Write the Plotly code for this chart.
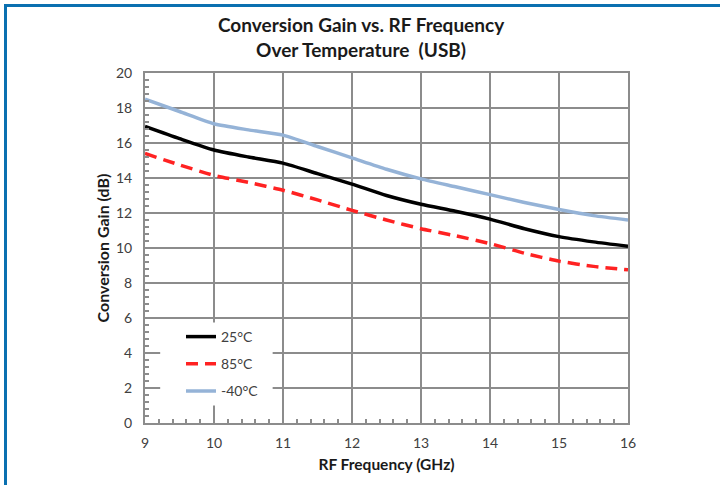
import plotly.graph_objects as go

# RF frequency (GHz)
freq = [9, 9.5, 10, 10.5, 11, 11.5, 12, 12.5, 13, 13.5, 14, 14.5, 15, 15.5, 16]

# Conversion gain (dB) per temperature
gain_25 = [16.95, 16.25, 15.6, 15.2, 14.85, 14.25, 13.65, 13.0, 12.5, 12.1,
           11.65, 11.1, 10.65, 10.35, 10.1]
gain_85 = [15.4, 14.75, 14.15, 13.75, 13.3, 12.75, 12.15, 11.6, 11.1, 10.7,
           10.25, 9.7, 9.25, 8.95, 8.75]
gain_m40 = [18.5, 17.8, 17.1, 16.75, 16.45, 15.8, 15.15, 14.5, 13.95, 13.5,
            13.05, 12.6, 12.2, 11.85, 11.6]

series = [
    ("25°C", gain_25, "#000000", "solid"),
    ("85°C", gain_85, "#ff2222", "12px,7px"),
    ("-40°C", gain_m40, "#95b3d7", "solid"),
]

FONT = "Lato"
W, H = 720, 485
L, R, T, B = 145, 92, 73, 62
PW, PH = W - L - R, H - T - B


def px_x(p):
    return (p - L) / PW


def px_y(p):
    return (H - B - p) / PH


fig = go.Figure()
for i, (name, vals, color, dash) in enumerate(series):
    fig.add_trace(go.Scatter(
        x=freq, y=vals, name=name, mode="lines",
        line=dict(color=color, width=3.5, dash=dash, shape="spline", smoothing=0.6),
        legendgroup=f"g{i}",
    ))

axis_common = dict(
    showgrid=True,
    gridcolor="#8c8c8c",
    gridwidth=2,
    showline=True,
    linecolor="#8c8c8c",
    linewidth=2,
    mirror=True,
    zeroline=False,
    ticks="",
    tickfont=dict(family=FONT, size=14, color="#404040"),
)

fig.update_xaxes(
    **axis_common,
    range=[9, 16],
    dtick=1,
    ticklabelstandoff=6,
    minor=dict(dtick=0.2, ticks="inside", ticklen=4, tickcolor="#8c8c8c",
               tickwidth=1.5, showgrid=False),
    title=dict(text="<b>RF Frequency (GHz)</b>", standoff=9,
               font=dict(family=FONT, size=15.5, color="#1a1a1a")),
)
fig.update_yaxes(
    **axis_common,
    range=[0, 20],
    dtick=2,
    ticklabelstandoff=8,
    minor=dict(dtick=0.4, ticks="inside", ticklen=4, tickcolor="#8c8c8c",
               tickwidth=1.5, showgrid=False),
    title=dict(text="<b>Conversion Gain (dB)</b>", standoff=2,
               font=dict(family=FONT, size=16, color="#1a1a1a")),
)

# white patch behind the legend, hiding the grid there
fig.add_shape(type="rect", xref="x", yref="y",
              x0=9.22, x1=10.85, y0=1.0, y1=5.75,
              fillcolor="white", line=dict(width=0), layer="between")

# blue frame on the top and left edges
fig.add_shape(type="rect", xref="paper", yref="paper",
              x0=px_x(5.5), x1=px_x(W + 20), y0=px_y(5.5), y1=px_y(H + 20),
              line=dict(color="#0a70b0", width=3), fillcolor="rgba(0,0,0,0)")

fig.add_annotation(
    text="<b>Conversion Gain vs. RF Frequency<br>Over Temperature  (USB)</b>",
    xref="paper", yref="paper", x=px_x(361), y=px_y(37),
    xanchor="center", yanchor="middle", showarrow=False,
    font=dict(family=FONT, size=19, color="#1a1a1a"),
)

fig.update_layout(
    width=W,
    height=H,
    margin=dict(l=L, r=R, t=T, b=B),
    paper_bgcolor="white",
    plot_bgcolor="white",
    legend=dict(
        x=px_x(181), y=px_y(321), xanchor="left", yanchor="top",
        bgcolor="rgba(0,0,0,0)",
        font=dict(family=FONT, size=14, color="#404040"),
        traceorder="grouped",
        tracegroupgap=6,
        itemwidth=30,
    ),
    showlegend=True,
)

fig.write_html("out.html", config={"displayModeBar": False},
               post_script="document.body.style.margin='0';")
